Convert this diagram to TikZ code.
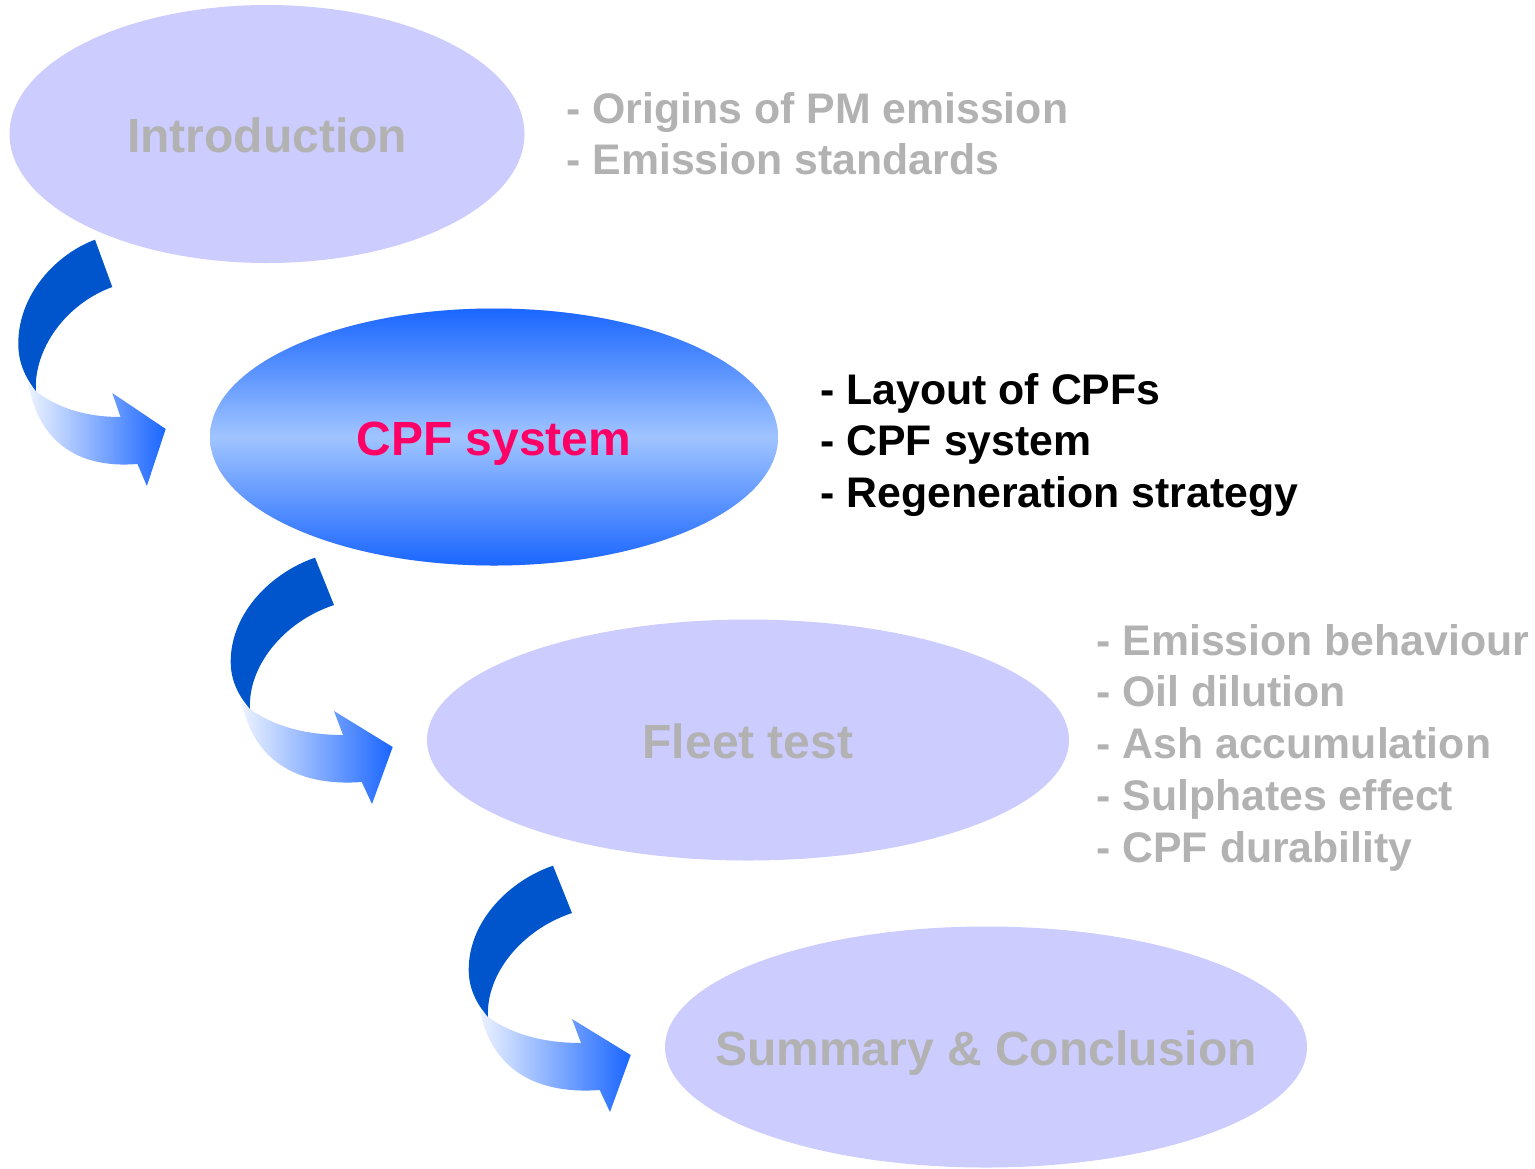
\documentclass[tikz,border=0pt]{standalone}
\usepackage{fontspec}
\setmainfont{Liberation Sans}
\usetikzlibrary{shapes.geometric}

\definecolor{lavender}{RGB}{204,204,255}
\definecolor{greytext}{RGB}{178,178,178}
\definecolor{hotpink}{RGB}{255,0,102}
\definecolor{deepblue}{RGB}{0,85,204}
\definecolor{brightblue}{RGB}{26,102,255}
\definecolor{paleblue}{RGB}{160,196,255}
\definecolor{iceblue}{RGB}{236,242,255}
\definecolor{midblue}{RGB}{200,214,255}

\tikzstyle{topic} = [ellipse, fill=lavender, text=greytext, inner sep=0pt,
  text height=18pt, text depth=0pt, font=\fontsize{24}{29}\selectfont\bfseries]
\tikzstyle{current} = [topic, top color=brightblue, bottom color=brightblue,
  middle color=paleblue, text=hotpink]
\tikzstyle{item} = [anchor=base west, inner sep=0pt, text=greytext,
  font=\fontsize{21.4}{26}\selectfont\bfseries]
\tikzstyle{back} = [fill=deepblue]
\tikzstyle{front} = [left color=iceblue, middle color=midblue, right color=brightblue]

\begin{document}
\begin{tikzpicture}[x=0.5pt,y=-0.5pt]
	\useasboundingbox (0,0) rectangle (1535,1168);

	% curved ribbon arrows, drawn around their tips
	\foreach \tx/\ty/\s in {165.7/429/0.91, 392.7/747/1, 630.7/1055/1} {
		\begin{scope}[shift={(\tx,\ty)}, xscale=\s]
			\shade[front] (-151,-45) .. controls (-140,10) and (-100,40) .. (-31,35)
				-- (-20.7,57) -- (0,0) -- (-58.7,-36) -- (-49.7,-12)
				.. controls (-95,-12) and (-125,-25) .. (-142.7,-38) -- cycle;
			\path[back] (-77.7,-189.3) .. controls (-120,-175) and (-162,-135) .. (-162,-85.3)
				.. controls (-162,-65) and (-153,-50) .. (-142.7,-38)
				.. controls (-145,-80) and (-110,-125) .. (-58.7,-142) -- cycle;
		\end{scope}
	}

	\node (intro) at (267,134) [topic, minimum width=257.5pt, minimum height=129pt] {Introduction};
	\node (cpf) at (494,437) [current, minimum width=284pt, minimum height=128.5pt] {CPF system};
	\node (fleet) at (748,740) [topic, minimum width=321pt, minimum height=120.5pt] {Fleet test};
	\node (summary) at (986,1047) [topic, minimum width=321pt, minimum height=120.5pt]
		{\makebox[0pt]{Summary \& Conclusion}};

	\foreach \t [count=\i] in {- Origins of PM emission, - Emission standards}
		\node (introitem\i) at (566,{123+51.5*(\i-1)}) [item] {\t};
	\foreach \t [count=\i] in {- Layout of CPFs, - CPF system, - Regeneration strategy}
		\node (cpfitem\i) at (820,{404+51.5*(\i-1)}) [item, text=black] {\t};
	\foreach \t [count=\i] in {- Emission behaviour, - Oil dilution, - Ash accumulation,
			- Sulphates effect, - CPF durability}
		\node (fleetitem\i) at (1096,{655+51.75*(\i-1)}) [item] {\t};
\end{tikzpicture}
\end{document}
